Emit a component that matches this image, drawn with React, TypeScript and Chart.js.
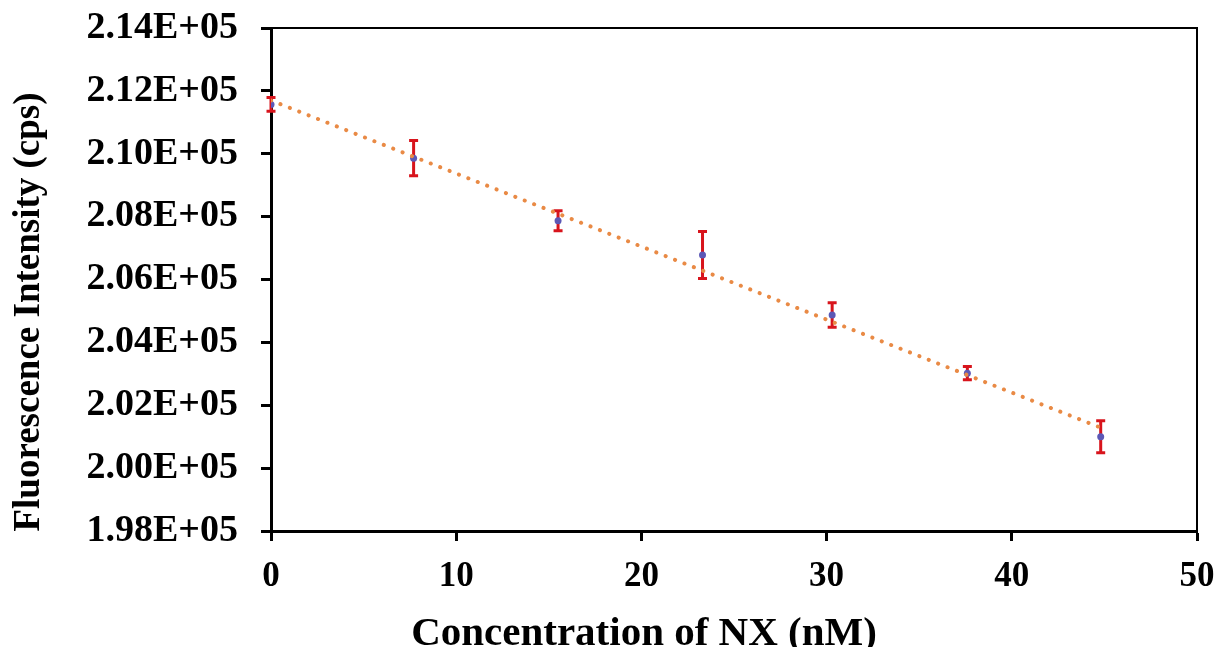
import React, { useEffect, useRef } from "react";
import { Chart, registerables } from "chart.js";

Chart.register(...registerables);

// ---- data ----
const concentrations = [0, 7.7, 15.5, 23.3, 30.3, 37.6, 44.8];
const intensities = [211570, 209860, 207870, 206780, 204870, 203020, 201000];
const errors = [220, 560, 320, 750, 390, 210, 510];
const trendX = [0, 44.8];
const trendY = [211695, 201288];
const xTicks = [0, 10, 20, 30, 40, 50];
const yTicks = [198000, 200000, 202000, 204000, 206000, 208000, 210000, 212000, 214000];
const xTitle = "Concentration of NX (nM)";
const yTitle = "Fluorescence Intensity (cps)";

const FONT = "'Liberation Serif', 'Times New Roman', serif";

const fmtY = (v: number) => (v / 100000).toFixed(2) + "E+05";

const errorBarPlugin = {
  id: "errorBars",
  beforeDatasetsDraw(chart: any) {
    const { ctx, scales } = chart;
    const xs = scales.x;
    const ys = scales.y;
    ctx.save();
    ctx.strokeStyle = "#D8141C";
    ctx.lineWidth = 3;
    ctx.lineCap = "butt";
    concentrations.forEach((c, i) => {
      const px = xs.getPixelForValue(c);
      const top = ys.getPixelForValue(intensities[i] + errors[i]);
      const bot = ys.getPixelForValue(intensities[i] - errors[i]);
      ctx.beginPath();
      ctx.moveTo(px, top);
      ctx.lineTo(px, bot);
      ctx.moveTo(px - 4.5, top);
      ctx.lineTo(px + 4.5, top);
      ctx.moveTo(px - 4.5, bot);
      ctx.lineTo(px + 4.5, bot);
      ctx.stroke();
    });
    ctx.restore();
  },
};

const framePlugin = {
  id: "frameAndTitles",
  afterDraw(chart: any) {
    const { ctx, chartArea } = chart;
    ctx.save();
    ctx.strokeStyle = "#000";
    ctx.lineWidth = 2;
    ctx.beginPath();
    ctx.moveTo(chartArea.left, chartArea.top);
    ctx.lineTo(chartArea.right, chartArea.top);
    ctx.lineTo(chartArea.right, chartArea.bottom);
    ctx.stroke();

    ctx.fillStyle = "#000";
    ctx.font = `bold 41px ${FONT}`;
    ctx.textAlign = "center";
    ctx.textBaseline = "alphabetic";
    ctx.fillText(xTitle, 644, 645);
    ctx.font = `bold 37px ${FONT}`;
    ctx.translate(39, 312);
    ctx.rotate(-Math.PI / 2);
    ctx.fillText(yTitle, 0, 0);
    ctx.restore();
  },
};

export default function App() {
  const ref = useRef<HTMLCanvasElement | null>(null);

  useEffect(() => {
    if (!ref.current) return;
    const chart = new Chart(ref.current, {
      type: "scatter",
      data: {
        datasets: [
          {
            type: "line",
            label: "trend",
            data: trendX.map((x, i) => ({ x, y: trendY[i] })),
            borderColor: "#E98A45",
            borderWidth: 4,
            borderDash: [0.1, 10],
            borderCapStyle: "round",
            pointRadius: 0,
            fill: false,
            order: 1,
          } as any,
          {
            label: "data",
            data: concentrations.map((x, i) => ({ x, y: intensities[i] })),
            backgroundColor: "#5C58B6",
            borderColor: "#5C58B6",
            pointRadius: 3.5,
            borderWidth: 0,
            order: 2,
          },
        ],
      },
      options: {
        responsive: false,
        animation: false,
        layout: { padding: { top: 28, right: 23, left: 0, bottom: 0 } },
        plugins: {
          legend: { display: false },
          tooltip: { enabled: false },
          title: { display: false },
        },
        scales: {
          x: {
            type: "linear",
            min: 0,
            max: 50,
            afterBuildTicks: (s: any) => {
              s.ticks = xTicks.map((v) => ({ value: v }));
            },
            afterFit: (s: any) => {
              s.height = 116;
              s.paddingLeft = 0;
              s.paddingRight = 0;
            },
            border: { display: true, color: "#000", width: 3 },
            grid: {
              drawOnChartArea: false,
              drawTicks: true,
              tickLength: 10,
              tickColor: "#000",
              tickWidth: 3,
            },
            ticks: {
              color: "#000",
              padding: 15,
              maxRotation: 0,
              font: { family: FONT, size: 35, weight: "bold" },
              callback: (v: any) => String(v),
            },
          },
          y: {
            type: "linear",
            min: 198000,
            max: 214000,
            afterBuildTicks: (s: any) => {
              s.ticks = yTicks.map((v) => ({ value: v }));
            },
            afterFit: (s: any) => {
              s.width = 271;
              s.paddingTop = 0;
              s.paddingBottom = 0;
            },
            border: { display: true, color: "#000", width: 3 },
            grid: {
              drawOnChartArea: false,
              drawTicks: true,
              tickLength: 10,
              tickColor: "#000",
              tickWidth: 3,
            },
            ticks: {
              color: "#000",
              padding: 23,
              font: { family: FONT, size: 38, weight: "bold" },
              callback: (v: any) => fmtY(Number(v)),
            },
          },
        },
      } as any,
      plugins: [errorBarPlugin, framePlugin],
    });
    return () => chart.destroy();
  }, []);

  return (
    <div
      style={{
        position: "absolute",
        left: 0,
        top: 0,
        width: 1220,
        height: 647,
        background: "#fff",
        overflow: "hidden",
      }}
    >
      <canvas ref={ref} width={1220} height={647} />
    </div>
  );
}
